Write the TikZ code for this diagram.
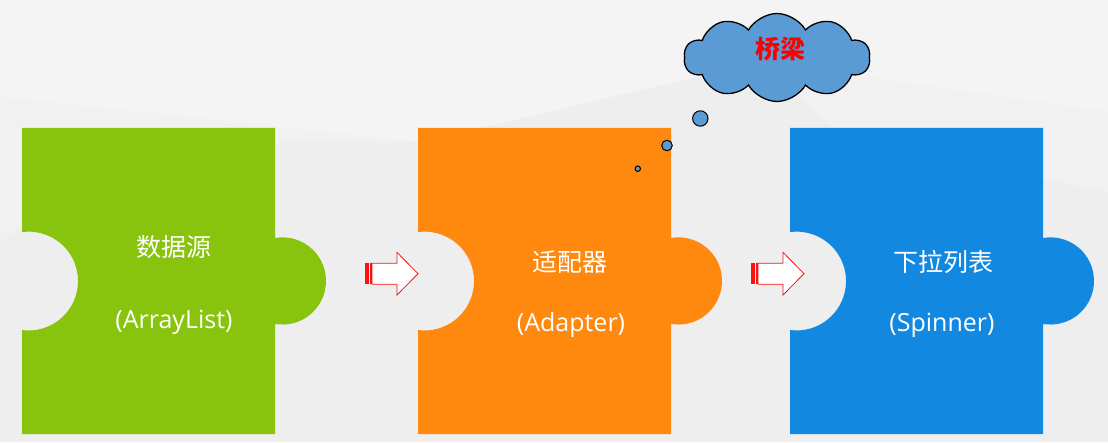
\documentclass[tikz,border=0pt]{standalone}
\usepackage{fontspec}
\setmainfont{Open Sans}
\newfontfamily\cjk{Noto Sans CJK SC}
\usetikzlibrary{shapes.symbols}
\definecolor{bgcol}{HTML}{EEEEEE}
\definecolor{bglight}{HTML}{F4F4F4}
\definecolor{pgreen}{HTML}{88C40D}
\definecolor{porange}{HTML}{FF880F}
\definecolor{pblue}{HTML}{1288E0}
\definecolor{cloudblue}{HTML}{5B9BD5}
\definecolor{arrred}{HTML}{FF1010}
\tikzset{
  cjktext/.style={text=white, font=\cjk\fontsize{25}{30}\selectfont, inner sep=0pt},
  lattext/.style={text=white, font=\fontsize{25}{30}\selectfont, inner sep=0pt},
  bubble/.style={circle, draw=black, fill=cloudblue, line width=1pt, inner sep=0pt},
  blockarrow/.style={draw=arrred, fill=white, line width=0.8pt, line join=miter},
}
\begin{document}
\begin{tikzpicture}[x=1pt,y=1pt]
\useasboundingbox (0,0) rectangle (1108,442);
% background
\fill[bgcol] (0,0) rectangle (1108,442);
\fill[bglight] (0,442) -- (1108,442) -- (1108,330) -- (760,380) -- (420,300) -- (0,345) -- cycle;
\fill[bglight!60!bgcol] (0,200) -- (150,300) -- (420,300) -- (0,345) -- cycle;
\fill[bglight!50!bgcol] (760,380) -- (1108,330) -- (1108,250) -- (850,300) -- cycle;
% puzzle pieces
\foreach \dx/\col in {0/pgreen, 396/porange, 768/pblue}{
  \fill[\col] (22+\dx,314) -- (275+\dx,314) -- (275+\dx,204)
    arc[start angle=99.8, end angle=-99.8, radius=43.6]
    -- (275+\dx,8) -- (22+\dx,8) -- (22+\dx,112)
    arc[start angle=-97.7, end angle=97.7, radius=49.4] -- cycle;
}
% texts
\node[cjktext] (src) at (174,195) {数据源};
\node[lattext] (srcl) at (174,120) {(ArrayList)};
\node[cjktext] (ada) at (570,180) {适配器};
\node[lattext] (adal) at (571,117) {(Adapter)};
\node[cjktext] (spi) at (943,180) {下拉列表};
\node[lattext] (spil) at (942,117) {(Spinner)};
% striped arrows
\foreach \ax in {0,386}{
  \fill[arrred] (365+\ax,157.8) rectangle (369+\ax,178.8);
  \fill[arrred] (370+\ax,157.8) rectangle (372+\ax,178.8);
  \draw[blockarrow] (372+\ax,178.8) -- (397+\ax,178.8) -- (397+\ax,189.6)
    -- (418+\ax,168.3) -- (397+\ax,147) -- (397+\ax,157.8) -- (372+\ax,157.8) -- cycle;
}
% cloud callout
\node[cloud, cloud puffs=10, cloud puff arc=120, cloud ignores aspect, draw=black,
  fill=cloudblue, line width=1.3pt, minimum width=186pt, minimum height=88pt,
  inner sep=0pt] (cloud) at (777,384.5) {};
\node[text=red, font=\cjk\bfseries\fontsize{25}{30}\selectfont, inner sep=0pt]
  (bridge) at (780,392.5) {桥梁};
\node[bubble, minimum size=15.4pt] (b1) at (700.3,323.5) {};
\node[bubble, minimum size=10.6pt] (b2) at (667,296.5) {};
\node[bubble, minimum size=5.4pt] (b3) at (637.8,273.3) {};
\end{tikzpicture}
\end{document}
